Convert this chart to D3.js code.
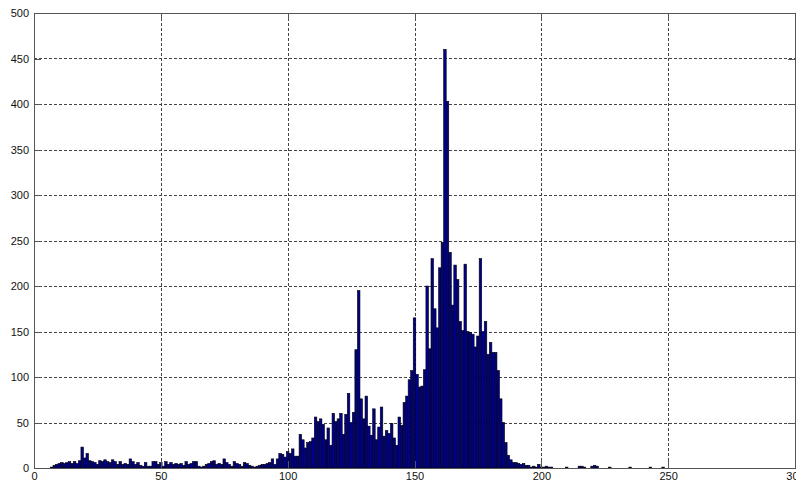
<!DOCTYPE html>
<html>
<head>
<meta charset="utf-8">
<script src="https://cdn.jsdelivr.net/npm/d3@7"></script>
<style>
  body { margin: 0; background: #fff; }
  .tick text { font-family: "Liberation Sans", Arial, sans-serif; font-size: 11px; fill: #111; }
</style>
</head>
<body>
<div id="chart"></div>
<script>
// histogram counts for bins 0..255
const counts = [
  0, 0, 0, 0, 0, 0, 0, 1, 3, 4, 5, 6, 5, 6, 7, 5,
  7, 5, 8, 23, 11, 16, 8, 7, 6, 4, 8, 7, 9, 7, 6, 9,
  7, 4, 7, 4, 5, 4, 10, 7, 4, 6, 3, 2, 6, 2, 2, 7,
  7, 4, 6, 2, 7, 4, 6, 4, 5, 4, 5, 3, 7, 4, 5, 7,
  7, 2, 1, 2, 4, 5, 7, 8, 4, 5, 4, 10, 6, 4, 2, 7,
  5, 4, 2, 6, 5, 3, 2, 1, 2, 3, 4, 4, 5, 6, 10, 4,
  10, 16, 15, 12, 18, 16, 21, 13, 13, 37, 31, 22, 28, 29, 33, 56,
  51, 54, 48, 31, 44, 25, 60, 51, 54, 60, 37, 59, 82, 50, 61, 130,
  195, 76, 54, 79, 46, 36, 65, 31, 45, 67, 35, 41, 38, 49, 33, 25,
  56, 47, 72, 79, 97, 107, 165, 103, 89, 90, 108, 200, 131, 230, 175, 154,
  220, 248, 460, 403, 237, 179, 223, 207, 161, 151, 224, 150, 149, 147, 133, 145,
  230, 150, 161, 125, 138, 127, 127, 107, 76, 50, 28, 14, 9, 6, 6, 5,
  4, 5, 3, 3, 1, 2, 1, 4, 1, 1, 2, 1, 1, 0, 0, 0,
  0, 0, 1, 0, 0, 0, 0, 2, 2, 1, 0, 0, 2, 3, 2, 0,
  0, 0, 0, 1, 0, 0, 0, 0, 0, 0, 0, 1, 0, 0, 0, 0,
  0, 0, 0, 1, 0, 0, 0, 0, 1, 0, 0, 0, 0, 0, 0, 0
];
const xTicks = [0, 50, 100, 150, 200, 250, 300];
const yTicks = [0, 50, 100, 150, 200, 250, 300, 350, 400, 450, 500];

const margin = { top: 13, right: 1, bottom: 18, left: 34 };
const width = 796 - margin.left - margin.right;
const height = 486 - margin.top - margin.bottom;

const svg = d3.select("#chart")
  .append("svg")
  .attr("width", 796)
  .attr("height", 486)
  .append("g")
  .attr("transform", `translate(${margin.left},${margin.top})`);

const x = d3.scaleLinear().domain([0, 300]).range([0, width]);
const y = d3.scaleLinear().domain([0, 500]).range([height, 0]);

// dashed grid
const grid = svg.append("g").attr("class", "grid");
grid.selectAll(".hg")
  .data(yTicks.slice(1, -1))
  .enter().append("line")
  .attr("x1", 0).attr("x2", width)
  .attr("y1", d => Math.round(y(d)) + 0.5).attr("y2", d => Math.round(y(d)) + 0.5);
grid.selectAll(".vg")
  .data(xTicks.slice(1, -1))
  .enter().append("line")
  .attr("y1", 0).attr("y2", height)
  .attr("x1", d => Math.round(x(d)) + 0.5).attr("x2", d => Math.round(x(d)) + 0.5);
grid.selectAll("line")
  .style("stroke", "#444")
  .style("stroke-width", 1)
  .style("stroke-dasharray", "3,2")
  .style("shape-rendering", "crispEdges");

// bars, one per bin centred on the bin value
const bw = x(1) - x(0);
svg.selectAll(".bar")
  .data(counts.map((v, i) => ({ bin: i, value: v })).filter(d => d.value > 0))
  .enter().append("rect")
  .attr("class", "bar")
  .attr("x", d => x(d.bin - 0.5))
  .attr("width", bw)
  .attr("y", d => y(d.value))
  .attr("height", d => height - y(d.value))
  .style("fill", "#00008f")
  .style("stroke", "#000")
  .style("stroke-width", 0.6);

// axes with inward ticks, box on all sides
const tick = 7;
function styleAxis(g) {
  g.selectAll(".domain, .tick line")
    .attr("stroke", "#555")
    .style("shape-rendering", "crispEdges");
}

svg.append("g")
  .attr("transform", `translate(0,${height})`)
  .call(d3.axisBottom(x).tickValues(xTicks).tickSize(-tick).tickSizeOuter(0).tickPadding(4))
  .call(styleAxis);

svg.append("g")
  .call(d3.axisLeft(y).tickValues(yTicks).tickSize(-tick).tickSizeOuter(0).tickPadding(5))
  .call(styleAxis);

svg.append("g")
  .call(d3.axisTop(x).tickValues(xTicks).tickSize(-tick).tickSizeOuter(0).tickFormat(""))
  .call(styleAxis);

svg.append("g")
  .attr("transform", `translate(${width},0)`)
  .call(d3.axisRight(y).tickValues(yTicks).tickSize(-tick).tickSizeOuter(0).tickFormat(""))
  .call(styleAxis);
</script>
</body>
</html>
